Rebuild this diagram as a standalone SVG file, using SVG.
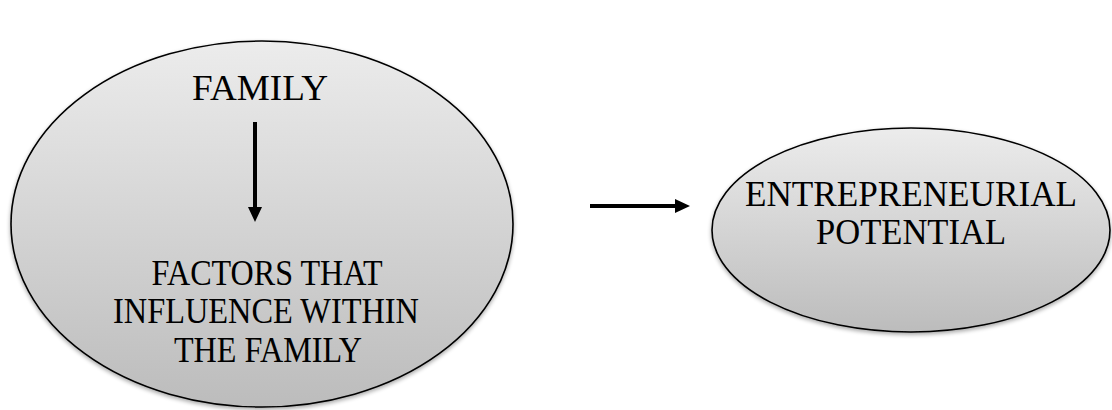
<svg xmlns="http://www.w3.org/2000/svg" width="1112" height="410" viewBox="0 0 1112 410">
<defs>
<linearGradient id="g" x1="0" y1="0" x2="0" y2="1">
<stop offset="0" stop-color="#ececec"/>
<stop offset="1" stop-color="#bcbcbc"/>
</linearGradient>
<filter id="sh" x="-5%" y="-5%" width="110%" height="115%">
<feGaussianBlur in="SourceAlpha" stdDeviation="2"/>
<feOffset dx="0" dy="2" result="b"/>
<feComponentTransfer><feFuncA type="linear" slope="0.35"/></feComponentTransfer>
<feMerge><feMergeNode/><feMergeNode in="SourceGraphic"/></feMerge>
</filter>
</defs>
<style>
.node{fill:url(#g);stroke:#000;stroke-width:1.6;}
.t{font-family:"Liberation Serif","Times New Roman",serif;font-size:35px;fill:#000;text-anchor:middle;}
.c{stroke:#000;stroke-width:4;fill:none;}
.h{fill:#000;stroke:none;}
</style>
<rect width="1112" height="410" fill="#fff"/>
<g id="family">
<ellipse class="node" cx="262" cy="224" rx="251" ry="183" filter="url(#sh)"/>
<text class="t" x="260" y="100" textLength="136" lengthAdjust="spacingAndGlyphs">FAMILY</text>
<text class="t" x="267" y="285" textLength="231" lengthAdjust="spacingAndGlyphs">FACTORS THAT</text>
<text class="t" x="266" y="323" textLength="306" lengthAdjust="spacingAndGlyphs">INFLUENCE WITHIN</text>
<text class="t" x="268" y="362" textLength="188" lengthAdjust="spacingAndGlyphs">THE FAMILY</text>
</g>
<g id="potential">
<ellipse class="node" cx="911" cy="230" rx="199" ry="102" filter="url(#sh)"/>
<text class="t" x="911" y="206" textLength="332" lengthAdjust="spacingAndGlyphs">ENTREPRENEURIAL</text>
<text class="t" x="911" y="244" textLength="190" lengthAdjust="spacingAndGlyphs">POTENTIAL</text>
</g>
<g id="connectors">
<line class="c" x1="255" y1="122" x2="255" y2="210"/>
<path class="h" d="M248,207 L262,207 L255,222 Z"/>
<line class="c" x1="590" y1="206" x2="678" y2="206"/>
<path class="h" d="M675,199 L690,206 L675,213 Z"/>
</g>
</svg>
